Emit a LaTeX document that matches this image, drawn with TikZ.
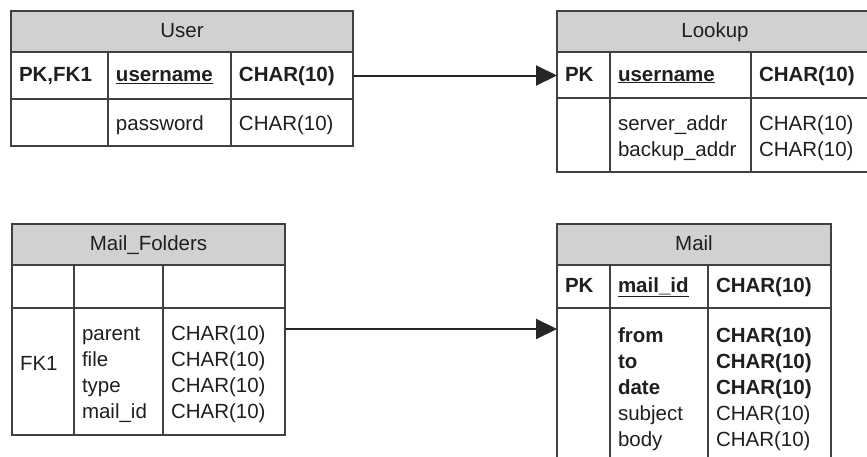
\documentclass[tikz,border=0pt]{standalone}
\usepackage{fontspec}
\setmainfont{Liberation Sans}
\usetikzlibrary{arrows.meta}
\usetikzlibrary{matrix}
\colorlet{tblline}{black!75}
\colorlet{tblfill}{black!18}
\colorlet{tbltext}{black!88}
\newcommand\key[1]{\textbf{\underline{#1}}}
\newcommand\lines[1]{\begin{tabular}[t]{@{}l@{}}#1\end{tabular}}
\tikzstyle{tblhead}=[draw=tblline,fill=tblfill,line width=1.2pt,anchor=north west,outer sep=0pt,inner sep=0pt,
  minimum height=41pt,text height=26.5pt,text depth=14.5pt]
\tikzstyle{tbl}=[matrix of nodes,nodes in empty cells,anchor=north west,inner sep=0pt,outer sep=0pt,
  column sep=-1.2pt,row sep=-1.2pt,
  nodes={draw=tblline,line width=1.2pt,inner xsep=8pt,inner ysep=0pt,align=left,anchor=center}]
\tikzstyle{rel}=[line width=2pt,draw=black!85,-{Triangle[length=21pt,width=20pt]}]
\begin{document}
\begin{tikzpicture}[x=1pt,y=-1pt,text=tbltext,font=\fontsize{20.5}{26}\selectfont]
	\useasboundingbox (0,0) rectangle (867,456);
	% User
	\node[tblhead,minimum width=342pt] (user-title) at (11,11) {User};
	\matrix (user) [tbl,
	  column 1/.style={nodes={text width=81pt}},column 2/.style={nodes={text width=107pt}},column 3/.style={nodes={text width=106pt}},
	  row 1/.style={nodes={minimum height=47pt,text height=29.5pt,text depth=17.5pt}},
	  row 2/.style={nodes={minimum height=47pt,text height=31pt,text depth=16pt}}]
	  at ([shift={(-0.6pt,0.6pt)}]user-title.south west) {
	  \textbf{PK,FK1} & \key{username} & \textbf{CHAR(10)} \\
	                  & password       & CHAR(10)          \\
	};
	% Lookup
	\node[tblhead,minimum width=316pt] (lookup-title) at (557,11) {Lookup};
	\matrix (lookup) [tbl,
	  column 1/.style={nodes={text width=37pt}},column 2/.style={nodes={text width=125pt}},column 3/.style={nodes={text width=106pt}},
	  row 1/.style={nodes={minimum height=46pt,text height=29pt,text depth=17pt}},
	  row 2/.style={nodes={minimum height=74pt,text height=32pt,text depth=42pt}}]
	  at ([shift={(-0.6pt,0.6pt)}]lookup-title.south west) {
	  \textbf{PK} & \key{username}                     & \textbf{CHAR(10)}          \\
	              & \lines{server\_addr\\ backup\_addr} & \lines{CHAR(10)\\ CHAR(10)} \\
	};
	% Mail_Folders
	\node[tblhead,minimum width=273pt] (folders-title) at (12,224) {Mail\_Folders};
	\matrix (folders) [tbl,
	  column 1/.style={nodes={text width=46pt}},column 2/.style={nodes={text width=73pt}},column 3/.style={nodes={text width=106pt}},
	  row 1/.style={nodes={minimum height=43pt}},
	  row 2/.style={nodes={minimum height=127pt,text height=32pt,text depth=95pt}}]
	  at ([shift={(-0.6pt,0.6pt)}]folders-title.south west) {
	                                         &                                         &                                                 \\
	  |[text height=62.5pt,text depth=64.5pt]| FK1
	                                         & \lines{parent\\ file\\ type\\ mail\_id} & \lines{CHAR(10)\\ CHAR(10)\\ CHAR(10)\\ CHAR(10)} \\
	};
	% Mail
	\node[tblhead,minimum width=274pt] (mail-title) at (557,224) {Mail};
	\matrix (mail) [tbl,
	  column 1/.style={nodes={text width=37pt}},column 2/.style={nodes={text width=82pt}},column 3/.style={nodes={text width=107pt}},
	  row 1/.style={nodes={minimum height=43pt,text height=27.7pt,text depth=15.3pt}},
	  row 2/.style={nodes={minimum height=160pt,text height=34.7pt,text depth=125.3pt}}]
	  at ([shift={(-0.6pt,0.6pt)}]mail-title.south west) {
	  \textbf{PK} & \key{mail\_id} & \textbf{CHAR(10)} \\
	              & \lines{\textbf{from}\\ \textbf{to}\\ \textbf{date}\\ subject\\ body}
	              & \lines{\textbf{CHAR(10)}\\ \textbf{CHAR(10)}\\ \textbf{CHAR(10)}\\ CHAR(10)\\ CHAR(10)} \\
	};
	% relations
	\draw[rel] (user-1-3.east) -- (user-1-3.east -| lookup-1-1.west);
	\draw[rel] ([yshift=-21pt]folders-2-3.north east) -- ([yshift=-21pt]folders-2-3.north east -| mail-2-1.west);
\end{tikzpicture}
\end{document}
